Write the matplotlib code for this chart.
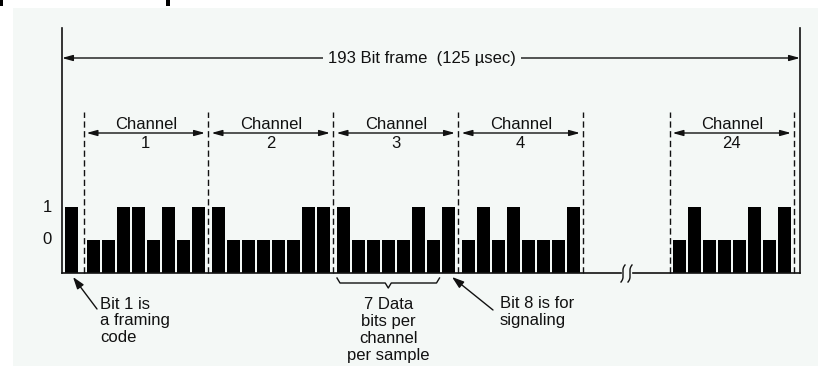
import matplotlib
matplotlib.use("Agg")
import matplotlib.pyplot as plt
from matplotlib.patches import FancyArrowPatch, Rectangle
import numpy as np

# Data
framing_bit = 1
channel_names = ['1', '2', '3', '4', '24']
ch1_bits = [0, 0, 1, 1, 0, 1, 0, 1]
ch2_bits = [1, 0, 0, 0, 0, 0, 1, 1]
ch3_bits = [1, 0, 0, 0, 0, 1, 0, 1]
ch4_bits = [0, 1, 0, 1, 0, 0, 0, 1]
ch24_bits = [0, 1, 0, 0, 0, 1, 0, 1]
level_labels = ['0', '1']

frame_text = '193 Bit frame  (125 \u00b5sec)'
note_bit1 = 'Bit 1 is\na framing\ncode'
note_data = '7 Data\nbits per\nchannel\nper sample'
note_bit8 = 'Bit 8 is for\nsignaling'

# layout helpers (pixel -> data units)
X0, PXX = 62.0, 15.0     # axis line, px per bit slot
Y0, PXY = 273.0, 33.0    # baseline, px per height unit
def dx(p):
    return (p - X0) / PXX
def dy(p):
    return (Y0 - p) / PXY

BG = '#f4f8f6'
INK = '#111111'
FONT = 'Liberation Sans'

fig = plt.figure(figsize=(8.18, 3.66), dpi=100)
fig.patch.set_facecolor('white')
ax = fig.add_axes([0, 0, 1, 1])
ax.set_xlim(dx(0), dx(818))
ax.set_ylim(dy(366), dy(0))
ax.axis('off')

# panel background
ax.add_patch(Rectangle((dx(13), dy(366)), dx(818) - dx(13), dy(8) - dy(366),
                       facecolor=BG, edgecolor='none', zorder=0))
# cut-off heading remnants at top
for x1, x2 in [(0, 3), (166, 170)]:
    ax.add_patch(Rectangle((dx(x1), dy(6)), dx(x2) - dx(x1), dy(0) - dy(6),
                           facecolor='black', edgecolor='none', zorder=1))

# bit positions
bar_w = 12.5 / PXX
frame_x = dx(65) + bar_w / 2
ch_start = [dx(87) + bar_w / 2 + k * (125 / PXX) for k in range(4)]
ch_start.append(dx(673) + bar_w / 2)
all_bits = [ch1_bits, ch2_bits, ch3_bits, ch4_bits, ch24_bits]

xs = [frame_x]
hs = [framing_bit + 1]
for s, bits in zip(ch_start, all_bits):
    for j, b in enumerate(bits):
        xs.append(s + j)
        hs.append(b + 1)
ax.bar(xs, hs, width=bar_w, color='black', edgecolor='none', zorder=3)

# axis lines
right_x = dx(800)
ax.plot([0, 0], [0, dy(28)], color=INK, lw=1.2, zorder=4)
ax.plot([right_x, right_x], [0, dy(28)], color=INK, lw=1.2, zorder=4)
ax.plot([0, dx(621)], [0, 0], color=INK, lw=1.2, zorder=4)
ax.plot([dx(633), right_x], [0, 0], color=INK, lw=1.2, zorder=4)

# break mark (two small "ʃ" squiggles)
s = np.linspace(0, 1, 60)
hook = np.where(s < 0.3, ((0.3 - s) / 0.3) ** 2, 0) - np.where(s > 0.7, ((s - 0.7) / 0.3) ** 2, 0)
for xc in [623, 630]:
    ax.plot(dx(xc + 2.0 * hook), dy(265 + 17 * s), color=INK, lw=1.0, zorder=4)

# channel separators, arrows and labels
arrow_style = '<|-|>,head_length=0.9,head_width=0.25'
seps = []
for s0, name in zip(ch_start, channel_names):
    left = s0 - 0.65
    right = s0 + 7 + 0.65
    for xv in (left, right):
        if all(abs(xv - q) > 0.3 for q in seps):
            seps.append(xv)
    ax.add_patch(FancyArrowPatch((left + 0.2, dy(133)), (right - 0.2, dy(133)),
                                 arrowstyle=arrow_style, mutation_scale=7,
                                 color=INK, lw=1.0, shrinkA=0, shrinkB=0, zorder=4))
    mid = (left + right) / 2
    ax.text(mid, dy(124), 'Channel', ha='center', va='center', fontsize=12,
            family=FONT, color=INK, zorder=5)
    ax.text(mid, dy(143), name, ha='center', va='center', fontsize=12,
            family=FONT, color=INK, zorder=5)
for xv in seps:
    ax.plot([xv, xv], [0, dy(112)], color=INK, lw=1.0,
            linestyle=(0, (4.5, 2.5)), zorder=2)

# frame arrow
ax.add_patch(FancyArrowPatch((0, dy(58)), (right_x, dy(58)),
                             arrowstyle=arrow_style, mutation_scale=7,
                             color=INK, lw=1.0, shrinkA=0, shrinkB=0, zorder=4))
ax.text(dx(422), dy(58), frame_text, ha='center', va='center', fontsize=12,
        family=FONT, color=INK, zorder=5,
        bbox=dict(boxstyle='square,pad=0.3', facecolor=BG, edgecolor='none'))

# level labels
for lab, h in zip(level_labels, [1, 2]):
    ax.text(dx(47), h, lab, ha='center', va='center', fontsize=12,
            family=FONT, color=INK)

# annotations
ax.annotate('', xy=(dx(73), dy(277)), xytext=(dx(97), dy(309)),
            arrowprops=dict(arrowstyle='-|>,head_length=0.9,head_width=0.3',
                            mutation_scale=8, color=INK, lw=1.0,
                            shrinkA=0, shrinkB=0))
ax.text(dx(100), dy(321), note_bit1, ha='left', va='center', fontsize=12,
        family=FONT, color=INK, linespacing=1.15)

ax.annotate('', xy=(dx(452), dy(277)), xytext=(dx(493), dy(310)),
            arrowprops=dict(arrowstyle='-|>,head_length=0.9,head_width=0.3',
                            mutation_scale=8, color=INK, lw=1.0,
                            shrinkA=0, shrinkB=0))
ax.text(dx(500), dy(312), note_bit8, ha='left', va='center', fontsize=12,
        family=FONT, color=INK, linespacing=1.15)

# brace under channel 3 data bits
b_left = ch_start[2] - bar_w / 2
b_right = ch_start[2] + 6 + bar_w / 2
b_mid = (b_left + b_right) / 2
bx = [b_left, b_left + 0.2, b_mid - 0.2, b_mid, b_mid + 0.2, b_right - 0.2, b_right]
by = [dy(278), dy(283), dy(283), dy(288), dy(283), dy(283), dy(278)]
ax.plot(bx, by, color=INK, lw=1.0, zorder=4)
ax.text(b_mid, dy(330), note_data, ha='center', va='center', fontsize=12,
        family=FONT, color=INK, linespacing=1.15, multialignment='center')

fig.savefig('out.png', dpi=100, facecolor='white')
